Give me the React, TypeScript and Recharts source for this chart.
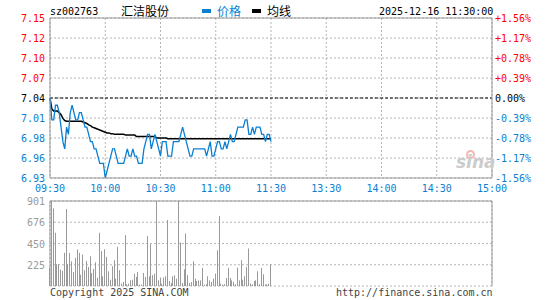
import { Bar, CartesianGrid, ComposedChart, Line, ReferenceLine, XAxis, YAxis } from 'recharts';

const PREV_CLOSE = 7.04;
const BLUE = '#0a7fd2';
const RED = '#ff0000';
const GRID = '#b4b4b4';
const BORDER = '#999999';
const VOL_GRAY = '#9a9a9a';
const MONO = '"DejaVu Sans Mono", monospace';
const CJK = '"Noto Sans CJK SC", sans-serif';

// minute index from 09:30 (0) to 15:00 (240), lunch break collapsed
const timeTicks = [0, 30, 60, 90, 120, 150, 180, 210, 240];
const timeLabels = ['09:30', '10:00', '10:30', '11:00', '11:30', '13:30', '14:00', '14:30', '15:00'];

const priceTicks = [6.93, 6.9575, 6.985, 7.0125, 7.04, 7.0675, 7.095, 7.1225, 7.15];
const priceLabels = ['6.93', '6.96', '6.98', '7.01', '7.04', '7.07', '7.10', '7.12', '7.15'];
const pctLabels = ['-1.56%', '-1.17%', '-0.78%', '-0.39%', '0.00%', '+0.39%', '+0.78%', '+1.17%', '+1.56%'];

const volTicks = [225, 450, 676, 901];
const volLabels = ['225', '450', '676', '901'];

// 09:30 .. 11:30, one value per minute
const price = [
  7.04, 7.01, 7.01, 7.03, 7.03, 7.02, 7.0, 6.98, 6.97, 7.0,
  6.99, 7.02, 7.03, 7.02, 7.01, 7.01, 7.02, 7.02, 7.01, 7.0,
  7.0, 6.99, 6.98, 6.98, 6.97, 6.97, 6.96, 6.95, 6.95, 6.95,
  6.93, 6.94, 6.95, 6.96, 6.97, 6.97, 6.96, 6.95, 6.95, 6.95,
  6.95, 6.96, 6.97, 6.96, 6.96, 6.97, 6.96, 6.96, 6.95, 6.95,
  6.95, 6.97, 6.98, 6.99, 6.99, 6.97, 6.98, 6.99, 6.98, 6.97,
  6.96, 6.98, 6.98, 6.98, 6.96, 6.96, 6.96, 6.98, 6.98, 6.98,
  6.98, 6.99, 7.0, 6.99, 6.98, 6.97, 6.96, 6.96, 6.97, 6.97,
  6.97, 6.97, 6.97, 6.97, 6.97, 6.96, 6.97, 6.98, 6.96, 6.96,
  6.97, 6.98, 6.98, 6.97, 6.97, 6.98, 6.97, 6.98, 6.99, 6.98,
  6.98, 6.99, 7.0, 7.0, 7.0, 7.0, 7.01, 7.01, 6.99, 6.99,
  7.0, 6.99, 7.0, 7.0, 7.0, 6.99, 6.99, 6.98, 6.99, 6.99,
  6.98,
];

const avgPrice = [
  7.04, 7.025, 7.022, 7.022, 7.022, 7.02, 7.017, 7.012, 7.009, 7.008,
  7.008, 7.008, 7.008, 7.008, 7.008, 7.008, 7.008, 7.008, 7.007, 7.006,
  7.005, 7.003, 7.002, 7.0, 6.999, 6.998, 6.997, 6.996, 6.995, 6.994,
  6.993, 6.992, 6.992, 6.991, 6.991, 6.99, 6.99, 6.99, 6.99, 6.99,
  6.99, 6.989, 6.989, 6.989, 6.989, 6.989, 6.989, 6.987, 6.987, 6.987,
  6.987, 6.987, 6.987, 6.987, 6.987, 6.987, 6.987, 6.987, 6.985, 6.985,
  6.985, 6.985, 6.985, 6.985, 6.984, 6.984, 6.984, 6.984, 6.984, 6.984,
  6.984, 6.984, 6.984, 6.984, 6.984, 6.984, 6.984, 6.984, 6.984, 6.984,
  6.984, 6.984, 6.984, 6.984, 6.984, 6.984, 6.984, 6.984, 6.984, 6.984,
  6.984, 6.984, 6.984, 6.984, 6.984, 6.984, 6.984, 6.984, 6.984, 6.984,
  6.984, 6.984, 6.984, 6.984, 6.984, 6.984, 6.984, 6.984, 6.984, 6.984,
  6.984, 6.984, 6.984, 6.984, 6.984, 6.984, 6.984, 6.984, 6.984, 6.984,
  6.984,
];

const volume = [
  192, 901, 823, 564, 231, 231, 174, 160, 351, 816,
  231, 351, 262, 149, 298, 387, 351, 121, 333, 167,
  266, 202, 316, 138, 181, 252, 89, 564, 369, 103,
  390, 309, 156, 67, 209, 273, 78, 415, 167, 25,
  43, 539, 18, 25, 60, 67, 131, 96, 149, 14,
  14, 138, 96, 528, 103, 443, 114, 131, 901, 60,
  89, 25, 89, 103, 699, 53, 32, 103, 114, 78,
  901, 461, 32, 177, 557, 114, 32, 43, 262, 78,
  53, 60, 60, 192, 14, 18, 103, 60, 43, 78,
  131, 380, 741, 25, 14, 18, 85, 192, 85, 60,
  43, 18, 195, 60, 273, 67, 103, 202, 397, 25,
  18, 53, 60, 156, 18, 192, 124, 14, 18, 25,
  231,
];

const rows = price.map((p, i) => ({ t: i, price: p, avg: avgPrice[i], vol: volume[i] }));

const colorFor = (v: number) =>
  v > PREV_CLOSE + 1e-6 ? RED : v < PREV_CLOSE - 1e-6 ? BLUE : '#000';

const PriceTick = ({ x, y, payload }: any) => {
  const i = priceTicks.indexOf(payload.value);
  return (
    <text x={x} y={y} dy={4} textAnchor="end" fill={colorFor(payload.value)} fontSize={10} fontFamily={MONO}>
      {priceLabels[i]}
    </text>
  );
};

const PctTick = ({ x, y, payload }: any) => {
  const i = priceTicks.indexOf(payload.value);
  return (
    <text x={x} y={y} dy={4} textAnchor="start" fill={colorFor(payload.value)} fontSize={10} fontFamily={MONO}>
      {pctLabels[i]}
    </text>
  );
};

const TimeTick = ({ x, y, payload }: any) => {
  const i = timeTicks.indexOf(payload.value);
  return (
    <text x={x} y={y} dy={7.5} textAnchor="middle" fill={BLUE} fontSize={10} fontFamily={MONO}>
      {timeLabels[i]}
    </text>
  );
};

const VolTick = ({ x, y, payload }: any) => {
  const i = volTicks.indexOf(payload.value);
  return (
    <text x={x} y={y} dy={4} textAnchor="end" fill={VOL_GRAY} fontSize={10} fontFamily={MONO}>
      {volLabels[i]}
    </text>
  );
};

const VolBar = (props: any) => {
  const { x, y, height } = props;
  if (!height) return null;
  return <rect x={Math.round(x)} y={y} width={1} height={height} fill={VOL_GRAY} />;
};

const abs = (left: number, top: number, extra: React.CSSProperties = {}): React.CSSProperties => ({
  position: 'absolute',
  left,
  top,
  whiteSpace: 'nowrap',
  ...extra,
});

export default function App() {
  return (
    <div style={{ position: 'absolute', left: 0, top: 0, width: 545, height: 300, background: '#fff', overflow: 'hidden' }}>
      {/* header */}
      <div style={abs(50, 5, { fontFamily: MONO, fontSize: 10, lineHeight: '14px', color: '#000' })}>sz002763</div>
      <div style={abs(121, 4, { fontFamily: CJK, fontSize: 12, lineHeight: '14px', color: '#000' })}>汇洁股份</div>
      <div style={abs(202, 9, { width: 9, height: 4, background: BLUE })} />
      <div style={abs(217, 4, { fontFamily: CJK, fontSize: 12, lineHeight: '14px', color: BLUE })}>价格</div>
      <div style={abs(252, 9, { width: 9, height: 4, background: '#000' })} />
      <div style={abs(267, 4, { fontFamily: CJK, fontSize: 12, lineHeight: '14px', color: '#000' })}>均线</div>
      <div style={abs(379, 5, { fontFamily: MONO, fontSize: 10, lineHeight: '14px', color: '#000' })}>2025-12-16 11:30:00</div>

      {/* price chart */}
      <div style={abs(0, 0)}>
        <ComposedChart width={545} height={196} data={rows} margin={{ top: 18, right: 0, bottom: 0, left: 0 }}>
          <CartesianGrid stroke={GRID} strokeDasharray="2 2" horizontalPoints={undefined} />
          <XAxis
            type="number"
            dataKey="t"
            domain={[0, 240]}
            ticks={timeTicks}
            interval={0}
            height={18}
            tickSize={0}
            tickMargin={6}
            tickLine={false}
            axisLine={{ stroke: BORDER }}
            tick={TimeTick}
          />
          <YAxis
            domain={[6.93, 7.15]}
            ticks={priceTicks}
            interval={0}
            width={50}
            tickSize={0}
            tickMargin={5}
            tickLine={false}
            axisLine={{ stroke: BORDER }}
            tick={PriceTick}
            allowDataOverflow
          />
          <YAxis
            yAxisId="pct"
            orientation="right"
            domain={[6.93, 7.15]}
            ticks={priceTicks}
            interval={0}
            width={53}
            tickSize={0}
            tickMargin={3}
            tickLine={false}
            axisLine={{ stroke: BORDER }}
            tick={PctTick}
            allowDataOverflow
          />
          <ReferenceLine y={7.15} stroke={BORDER} />
          <ReferenceLine y={PREV_CLOSE} stroke="#000" strokeDasharray="3 2" />
          <Line
            type="linear"
            dataKey="avg"
            stroke="#000"
            strokeWidth={1.5}
            dot={false}
            activeDot={false}
            isAnimationActive={false}
          />
          <Line
            type="linear"
            dataKey="price"
            stroke={BLUE}
            strokeWidth={1.3}
            dot={false}
            activeDot={false}
            isAnimationActive={false}
          />
        </ComposedChart>
      </div>

      {/* sina watermark */}
      <div
        style={abs(466, 150, {
          width: 9,
          height: 9,
          borderRadius: '50%',
          border: '2px solid #f2b7b7',
          boxSizing: 'border-box',
        })}
      />
      <div
        style={abs(456, 153, {
          fontFamily: '"DejaVu Sans", sans-serif',
          fontStyle: 'italic',
          fontWeight: 'bold',
          fontSize: 17,
          lineHeight: '18px',
          color: '#cccccc',
        })}
      >
        sina
      </div>

      {/* volume chart */}
      <div style={abs(0, 190)}>
        <ComposedChart width={545} height={110} data={rows} margin={{ top: 11, right: 53, bottom: 14, left: 0 }}>
          <CartesianGrid stroke={GRID} strokeDasharray="2 2" />
          <XAxis
            type="number"
            dataKey="t"
            domain={[0, 240]}
            ticks={timeTicks}
            interval={0}
            height={0}
            tick={false}
            tickLine={false}
            axisLine={{ stroke: BORDER }}
          />
          <YAxis
            domain={[0, 901]}
            ticks={volTicks}
            interval={0}
            width={50}
            tickSize={0}
            tickMargin={5}
            tickLine={false}
            axisLine={{ stroke: BORDER }}
            tick={VolTick}
            allowDataOverflow
          />
          <ReferenceLine y={901} stroke={BORDER} />
          <ReferenceLine x={240} stroke={BORDER} />
          <Bar dataKey="vol" barSize={1} shape={VolBar} isAnimationActive={false} />
        </ComposedChart>
      </div>

      {/* footer */}
      <div style={abs(50, 287, { fontFamily: MONO, fontSize: 10, lineHeight: '12px', color: '#444' })}>
        Copyright 2025 SINA.COM
      </div>
      <div style={abs(336, 287, { fontFamily: MONO, fontSize: 10, lineHeight: '12px', color: '#444' })}>
        http://finance.sina.com.cn
      </div>
    </div>
  );
}
